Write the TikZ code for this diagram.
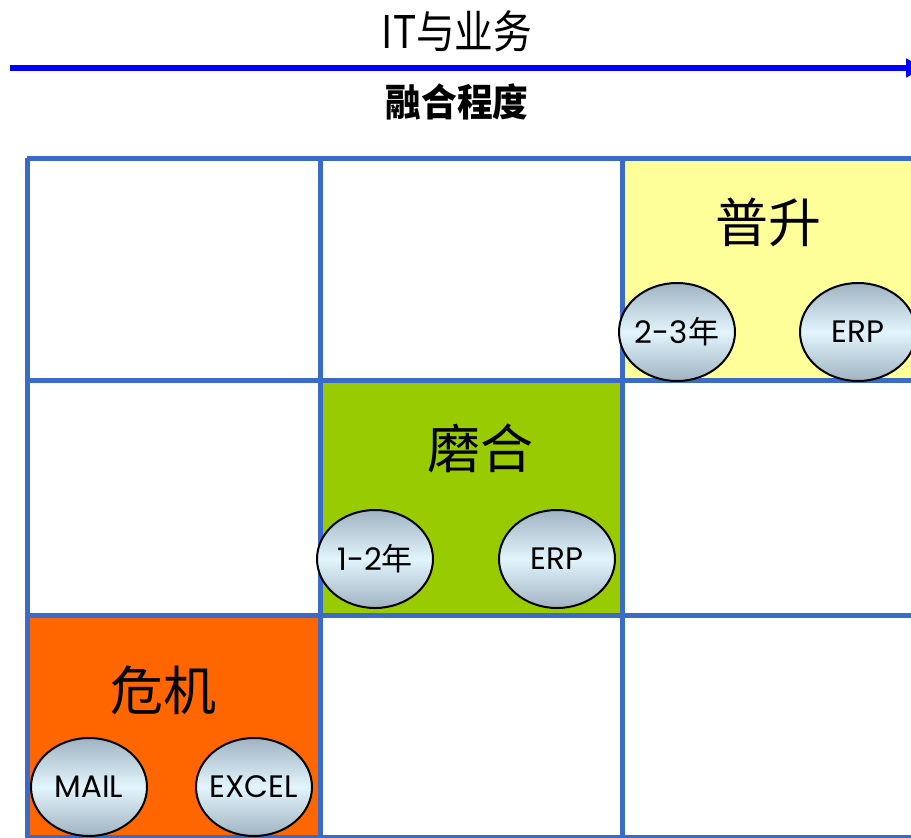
\documentclass[tikz,border=0pt]{standalone}
\usepackage{fontspec}
\newfontfamily\cjk{Noto Sans CJK SC}
\newfontfamily\lat{Poppins}
\usetikzlibrary{arrows.meta,shapes.geometric}
\newcommand{\ovtext}[1]{\makebox[0pt]{#1}}
\definecolor{gridblue}{HTML}{3A6BC8}
\definecolor{arrblue}{HTML}{0000FF}
\definecolor{cyellow}{HTML}{FFFF99}
\definecolor{cgreen}{HTML}{99CC00}
\definecolor{corange}{HTML}{FF6600}
\definecolor{etop}{HTML}{9FB3C2}
\definecolor{emid}{HTML}{E2F5FC}
\begin{document}
\begin{tikzpicture}[x=1pt,y=-1pt,
  gridline/.style={draw=gridblue,line width=5pt},
  oval/.style={ellipse,draw=black,line width=2pt,minimum width=116pt,minimum height=98pt,inner sep=0pt,
    top color=etop,bottom color=etop,middle color=emid,font=\lat\fontsize{31}{34}\selectfont},
  biglabel/.style={font=\cjk\fontsize{53}{56}\selectfont}]
\useasboundingbox (0,0) rectangle (911,838);
\fill[white] (0,0) rectangle (911,838);
% colored cells
\fill[cyellow] (622,158) rectangle (920,380);
\fill[cgreen] (320,380) rectangle (622,615);
\fill[corange] (27,615) rectangle (320,840);
% grid
\draw[gridline] (27,158) -- (925,158);
\draw[gridline] (27,380) -- (925,380);
\draw[gridline] (27,615) -- (925,615);
\draw[gridline] (27,837) -- (925,837);
\draw[gridline] (27,158) -- (27,845);
\draw[gridline] (320,158) -- (320,845);
\draw[gridline] (622,158) -- (622,845);
% arrow
\coordinate (as) at (10,68);
\coordinate (ae) at (924,68);
\draw[arrblue,line width=6pt,-{Triangle[length=18pt,width=18pt]}] (as) -- (ae);
\node[font=\cjk\fontsize{45}{48}\selectfont] (t1) at (457,31) {\scalebox{0.86}[1]{IT与业务}};
\node[font=\cjk\bfseries\fontsize{38}{40}\selectfont] (t2) at (457,102) {\scalebox{0.94}[1]{融合程度}};
% labels
\node[biglabel] (l1) at (768,222) {普升};
\node[biglabel] (l2) at (480,448) {磨合};
\node[biglabel] (l3) at (163,690) {危机};
% ovals
\node[oval] (o1) at (677,332) {\ovtext{2-3{\cjk 年}}};
\node[oval] (o2) at (858,332) {\ovtext{ERP}};
\node[oval] (o3) at (375,559) {\ovtext{1-2{\cjk 年}}};
\node[oval] (o4) at (557,559) {\ovtext{ERP}};
\node[oval] (o5) at (89,787) {\ovtext{MAIL}};
\node[oval] (o6) at (254,787) {\ovtext{EXCEL}};
\end{tikzpicture}
\end{document}
